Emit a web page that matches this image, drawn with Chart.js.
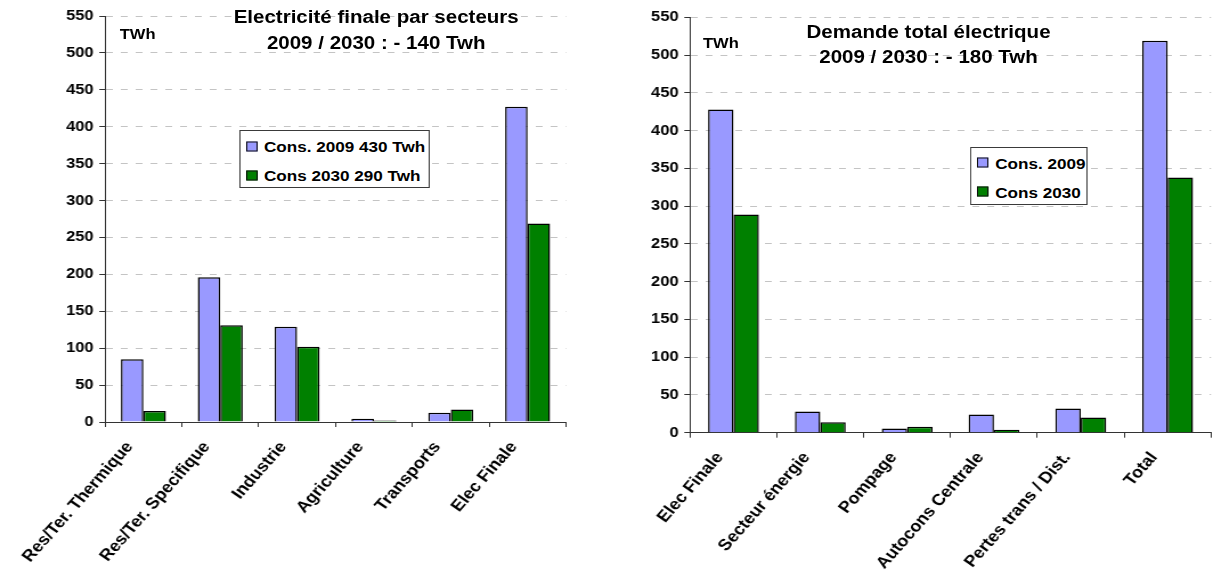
<!DOCTYPE html>
<html>
<head>
<meta charset="utf-8">
<script src="https://cdn.jsdelivr.net/npm/chart.js@4.4.1/dist/chart.umd.min.js"></script>
<style>
  html, body { margin: 0; padding: 0; background: #fff; overflow: hidden; }
  /* the whole sheet is drawn at a narrower width and widened horizontally */
  #sheet {
    position: absolute; left: 0; top: 0; width: 1066px; height: 574px;
    transform: scaleX(1.14); transform-origin: 0 0;
    font-family: "Liberation Sans", Arial, sans-serif; font-weight: bold; color: #000;
  }
  .panel { position: absolute; top: 0; height: 574px; }
  .title { position: absolute; white-space: nowrap; font-size: 18px; line-height: 1; transform: translate(-50%, -50%); }
  .unit { position: absolute; white-space: nowrap; font-size: 14.5px; line-height: 1; transform: translateY(-50%); }
  .legend { position: absolute; border: 1px solid #3a3a3a; background: #fff; box-sizing: border-box; }
  .row { position: absolute; left: 0; white-space: nowrap; font-size: 15px; line-height: 1; display: flex; align-items: center; transform: translateY(-50%); }
  .sw { width: 8px; height: 8px; border: 1px solid #111; margin-right: 6px; }
</style>
</head>
<body>
<div id="sheet">
  <div class="panel" id="leftPanel" style="left:0; width:526px;"><canvas id="leftChart"></canvas></div>
  <div class="panel" id="rightPanel" style="left:526px; width:540px;"><canvas id="rightChart"></canvas></div>

  <div class="title" style="left:330px; top:17px;">Electricité finale par secteurs</div>
  <div class="title" style="left:330px; top:43px;">2009 / 2030 : - 140 Twh</div>
  <div class="unit" style="left:105px; top:34px;">TWh</div>
  <div class="legend" id="leftLegend" style="left:209.6px; top:130px; width:167px; height:58px;"></div>

  <div class="title" style="left:814.5px; top:31.7px;">Demande total électrique</div>
  <div class="title" style="left:814.5px; top:57.3px;">2009 / 2030 : - 180 Twh</div>
  <div class="unit" style="left:616.7px; top:43.3px;">TWh</div>
  <div class="legend" id="rightLegend" style="left:851px; top:146.7px; width:102.6px; height:58px;"></div>
</div>

<script>
// Final electricity by sector (TWh)
const leftCategories = ['Res/Ter. Thermique', 'Res/Ter. Specifique', 'Industrie', 'Agriculture', 'Transports', 'Elec Finale'];
const leftCons2009 = [85, 196, 129, 4.5, 12.5, 427];
const leftCons2030 = [15, 131, 102, 2, 17, 269];
const leftSeriesNames = ['Cons. 2009 430 Twh', 'Cons 2030 290 Twh'];

// Total electricity demand (TWh)
const rightCategories = ['Elec Finale', 'Secteur énergie', 'Pompage', 'Autocons Centrale', 'Pertes trans / Dist.', 'Total'];
const rightCons2009 = [428, 28, 5.5, 24, 32, 519];
const rightCons2030 = [289, 14, 8, 4, 20, 338];
const rightSeriesNames = ['Cons. 2009', 'Cons 2030'];

// Value axis
const yMin = 0;
const yMax = 550;
const yStep = 50;

const seriesColors = ['#9999FF', '#008000'];
const FONT = '"Liberation Sans", Arial, sans-serif';

function buildLegend(id, names) {
  const box = document.getElementById(id);
  const rowsY = [15.3, 44];
  names.forEach((name, i) => {
    const row = document.createElement('div');
    row.className = 'row';
    row.style.left = '5px';
    row.style.top = rowsY[i] + 'px';
    const sw = document.createElement('span');
    sw.className = 'sw';
    sw.style.background = seriesColors[i];
    const txt = document.createElement('span');
    txt.textContent = name;
    row.appendChild(sw);
    row.appendChild(txt);
    box.appendChild(row);
  });
}

function makeChart(canvasId, categories, s2009, s2030, names, area) {
  const axisColor = '#333';
  const tickFont = { family: FONT, size: 14.5, weight: 'bold' };
  const catFont = { family: FONT, size: 16, weight: 'bold' };
  return new Chart(document.getElementById(canvasId), {
    type: 'bar',
    data: {
      labels: categories,
      datasets: [
        { label: names[0], data: s2009, backgroundColor: seriesColors[0], borderColor: '#000', borderWidth: 1.5,
          categoryPercentage: 0.585, barPercentage: 1.0 },
        { label: names[1], data: s2030, backgroundColor: seriesColors[1], borderColor: '#000', borderWidth: 1.5,
          categoryPercentage: 0.585, barPercentage: 1.0 }
      ]
    },
    options: {
      responsive: true,
      maintainAspectRatio: false,
      animation: false,
      devicePixelRatio: 1,
      layout: { padding: { top: area.top, right: area.right, left: 0, bottom: 0 } },
      plugins: { legend: { display: false }, tooltip: { enabled: false }, title: { display: false } },
      scales: {
        x: {
          offset: true,
          grid: { display: true, drawOnChartArea: false, drawTicks: true, tickLength: 5, tickColor: axisColor, offset: true },
          border: { display: true, color: axisColor, width: 1 },
          ticks: { autoSkip: false, maxRotation: 52, minRotation: 52, color: '#000', font: catFont,
                   padding: 11, labelOffset: -12 },
          afterFit: (s) => { s.height = area.xAxisHeight; }
        },
        y: {
          min: yMin, max: yMax,
          ticks: { stepSize: yStep, color: '#000', font: tickFont, padding: 5 },
          grid: { color: '#c4c4c4', lineWidth: 1, tickLength: 5, tickColor: axisColor, drawTicks: true },
          border: { display: true, color: axisColor, width: 1, dash: [6, 7] },
          afterFit: (s) => { s.width = area.yAxisWidth; }
        }
      }
    }
  });
}

buildLegend('leftLegend', leftSeriesNames);
buildLegend('rightLegend', rightSeriesNames);

makeChart('leftChart', leftCategories, leftCons2009, leftCons2030, leftSeriesNames,
  { top: 16, right: 29.5, yAxisWidth: 92.1, xAxisHeight: 152 });
makeChart('rightChart', rightCategories, rightCons2009, rightCons2030, rightSeriesNames,
  { top: 17.3, right: 3.7, yAxisWidth: 79.3, xAxisHeight: 141.3 });
</script>
</body>
</html>
